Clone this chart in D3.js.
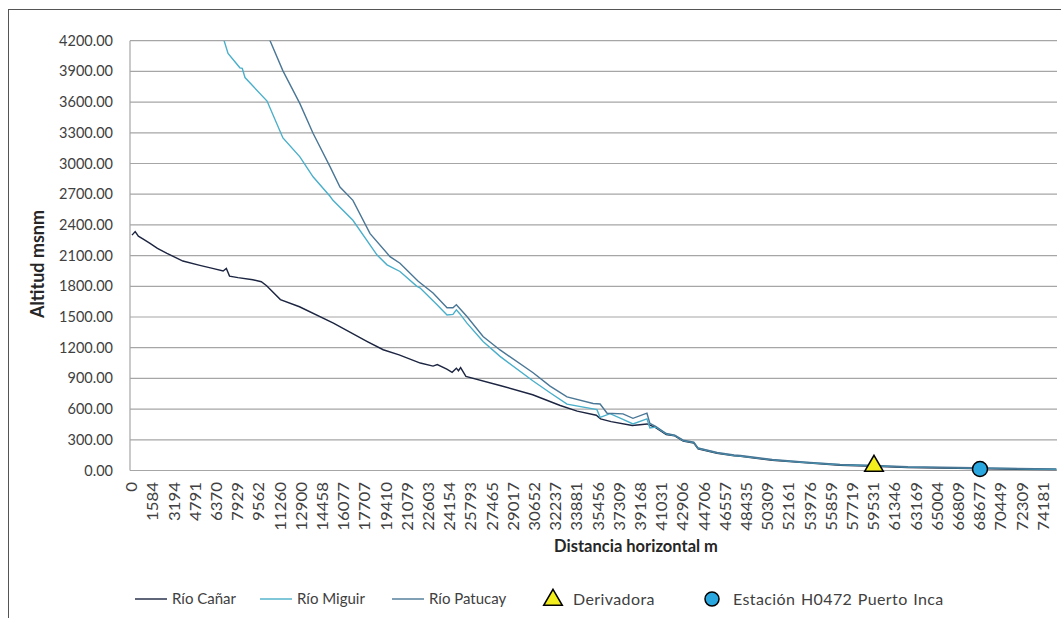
<!DOCTYPE html>
<html>
  <head>
    <meta charset="utf-8">
    <title>Perfil longitudinal</title>
    <style>
      body {
        margin: 0;
        padding: 0;
        overflow: hidden;
        background: #fff;
      }
      svg {
        display: block;
        font-family: Lato, "Open Sans", sans-serif;
      }
    </style>
    <script src="https://unpkg.com/d3@7.1.1/dist/d3.min.js"></script>
  </head>
  <body>
    <svg width="1061" height="618"></svg>
    <script>
      // Etiquetas del eje de categorías (distancia horizontal, m)
      const distLabels = [0, 1584, 3194, 4791, 6370, 7929, 9562, 11260, 12900, 14458,
        16077, 17707, 19410, 21079, 22603, 24154, 25793, 27465, 29017, 30652,
        32237, 33881, 35456, 37309, 39168, 41031, 42906, 44706, 46557, 48435,
        50309, 52161, 53976, 55859, 57719, 59531, 61346, 63169, 65004, 66809,
        68677, 70449, 72309, 74181];

      const yTicks = d3.range(0, 4201, 300);

      // Perfiles: [posición de categoría, altitud msnm]
      const canar = [
        [0, 2300], [0.15, 2335], [0.3, 2290], [0.55, 2258], [0.85, 2220], [1.2, 2170],
        [1.65, 2122], [2.4, 2047], [3.2, 2005], [3.8, 1975], [4.3, 1950], [4.45, 1975],
        [4.6, 1900], [5.0, 1885], [5.7, 1864], [6.1, 1845], [6.35, 1806], [7.0, 1670],
        [7.9, 1600], [9.5, 1440], [11.1, 1260], [11.85, 1180], [12.6, 1130], [13.6, 1050],
        [14.2, 1020], [14.4, 1035], [14.85, 990], [15.1, 960], [15.3, 1000], [15.4, 975],
        [15.5, 1005], [15.75, 920], [17.4, 828], [18.9, 740], [20.2, 635], [21.0, 580],
        [21.9, 540], [22.1, 505], [22.6, 478], [23.6, 440], [24.3, 455], [24.7, 418],
        [25.2, 352], [25.6, 338], [26.0, 288], [26.5, 268], [26.7, 212], [27.6, 168],
        [28.4, 143], [28.7, 138], [30.2, 100], [31.8, 74], [33.4, 52], [35.0, 42],
        [36.6, 29], [39.7, 19], [42.6, 10], [43.6, 8]
      ];

      const miguir = [
        [4.3, 4230], [4.53, 4075], [5.09, 3935], [5.2, 3930], [5.33, 3840], [6.37, 3610],
        [7.12, 3250], [7.92, 3065], [8.54, 2870], [9.34, 2680], [9.48, 2640], [10.42, 2445],
        [11.56, 2105], [12.03, 2010], [12.64, 1945], [13.44, 1800], [13.58, 1785],
        [14.39, 1620], [14.86, 1520], [15.14, 1525], [15.3, 1570], [15.47, 1530],
        [15.8, 1440], [16.56, 1260], [17.36, 1115], [18.92, 875], [19.72, 760],
        [20.52, 648], [21.93, 595], [22.08, 520], [22.55, 555], [23.16, 500], [23.63, 455],
        [24.29, 505], [24.43, 415], [24.7, 425], [25.2, 358], [25.6, 342], [26.0, 292],
        [26.5, 272], [26.7, 217], [27.6, 172], [28.4, 147], [28.7, 142], [30.2, 104],
        [31.8, 78], [33.4, 56], [35.0, 46], [36.6, 33], [39.7, 23], [42.6, 14], [43.6, 12]
      ];

      const patucay = [
        [6.45, 4230], [7.12, 3905], [7.92, 3585], [8.54, 3295], [9.34, 2970], [9.81, 2770],
        [10.42, 2640], [11.23, 2315], [12.17, 2090], [12.64, 2025], [13.5, 1850],
        [14.2, 1735], [14.86, 1590], [15.14, 1590], [15.3, 1620], [15.47, 1580],
        [15.8, 1505], [16.56, 1310], [17.36, 1178], [18.92, 955], [19.72, 825],
        [20.52, 720], [21.75, 655], [22.08, 650], [22.41, 560], [23.16, 553], [23.63, 510],
        [24.29, 560], [24.43, 460], [24.7, 432], [25.2, 362], [25.6, 346], [26.0, 296],
        [26.5, 276], [26.7, 221], [27.6, 176], [28.4, 151], [28.7, 146], [30.2, 108],
        [31.8, 82], [33.4, 60], [35.0, 50], [36.6, 37], [39.7, 27], [42.6, 18], [43.6, 16]
      ];

      const derivadora = [[35, 44]];
      const estacion = [[40, 15]];

      const series = [
        { name: 'Río Cañar', data: canar, color: '#1c2541' },
        { name: 'Río Miguir', data: miguir, color: '#4aafca' },
        { name: 'Río Patucay', data: patucay, color: '#4a7796' }
      ];

      const svg = d3.select('svg');
      const margin = { left: 131, top: 40.7, right: 1057, bottom: 470.5 };

      const x = d3.scaleLinear()
        .domain([0, distLabels.length - 1])
        .range([132, 132 + 21.2 * (distLabels.length - 1)]);
      const y = d3.scaleLinear().domain([0, 4200]).range([margin.bottom, margin.top]);

      // Marco exterior
      svg.append('rect')
        .attr('x', 8.5).attr('y', 9.5)
        .attr('width', 1100).attr('height', 700)
        .attr('fill', 'none').attr('stroke', '#555').attr('stroke-width', 1);

      // Líneas de cuadrícula
      svg.append('g')
        .selectAll('line')
        .data(yTicks)
        .join('line')
        .attr('x1', 130).attr('x2', margin.right)
        .attr('y1', (d) => y(d)).attr('y2', (d) => y(d))
        .attr('stroke', '#a6a6a6').attr('stroke-width', 1.2);

      svg.append('line')
        .attr('x1', 130).attr('x2', 130)
        .attr('y1', margin.top).attr('y2', margin.bottom)
        .attr('stroke', '#a6a6a6').attr('stroke-width', 1.2);

      // Etiquetas eje Y
      svg.append('g')
        .selectAll('text')
        .data(yTicks)
        .join('text')
        .attr('x', 113).attr('y', (d) => y(d))
        .attr('dy', '0.35em')
        .attr('text-anchor', 'end')
        .attr('font-size', 14.5)
        .attr('fill', '#404040')
        .text((d) => d3.format('.2f')(d));

      // Etiquetas eje X (rotadas)
      svg.append('g')
        .selectAll('text')
        .data(distLabels)
        .join('text')
        .attr('transform', (d, i) => `translate(${x(i)},482) rotate(-90) scale(1.12,1)`)
        .attr('dy', '0.35em')
        .attr('text-anchor', 'end')
        .attr('font-size', 15)
        .attr('fill', '#404040')
        .text((d) => d);

      // Títulos de ejes
      svg.append('text')
        .attr('transform', 'translate(44,264) rotate(-90)')
        .attr('text-anchor', 'middle')
        .attr('font-size', 18)
        .attr('font-weight', 'bold')
        .attr('fill', '#262626')
        .text('Altitud msnm');

      svg.append('text')
        .attr('x', 636).attr('y', 552)
        .attr('text-anchor', 'middle')
        .attr('font-size', 16.5)
        .attr('font-weight', 'bold')
        .attr('fill', '#262626')
        .text('Distancia horizontal m');

      // Perfiles
      svg.append('clipPath').attr('id', 'plot')
        .append('rect')
        .attr('x', 130).attr('y', margin.top)
        .attr('width', margin.right - 130).attr('height', margin.bottom - margin.top);

      const line = d3.line()
        .x((d) => x(d[0]))
        .y((d) => y(d[1]));

      svg.append('g')
        .attr('clip-path', 'url(#plot)')
        .selectAll('path')
        .data(series)
        .join('path')
        .attr('d', (d) => line(d.data))
        .attr('fill', 'none')
        .attr('stroke', (d) => d.color)
        .attr('stroke-width', 1.4);

      // Marcadores
      const tri = d3.symbol().type(d3.symbolTriangle).size(150);
      svg.append('g')
        .selectAll('path')
        .data(derivadora)
        .join('path')
        .attr('transform', (d) => `translate(${x(d[0])},${y(d[1])})`)
        .attr('d', tri)
        .attr('fill', '#f2ee1d')
        .attr('stroke', '#000')
        .attr('stroke-width', 1.5);

      svg.append('g')
        .selectAll('circle')
        .data(estacion)
        .join('circle')
        .attr('cx', (d) => x(d[0]))
        .attr('cy', (d) => y(d[1]))
        .attr('r', 7.5)
        .attr('fill', '#2aa7df')
        .attr('stroke', '#000')
        .attr('stroke-width', 1.5);

      // Leyenda
      const legend = svg.append('g').attr('font-size', 15).attr('fill', '#404040');
      const legendX = [135, 260, 392];
      series.forEach((s, i) => {
        legend.append('line')
          .attr('x1', legendX[i]).attr('x2', legendX[i] + 32)
          .attr('y1', 599).attr('y2', 599)
          .attr('stroke', s.color).attr('stroke-width', 1.4);
        legend.append('text')
          .attr('x', legendX[i] + 37).attr('y', 599)
          .attr('dy', '0.35em')
          .text(s.name);
      });

      legend.append('path')
        .attr('transform', 'translate(553,600)')
        .attr('d', tri)
        .attr('fill', '#f2ee1d')
        .attr('stroke', '#000')
        .attr('stroke-width', 1.5);
      legend.append('text')
        .attr('x', 573).attr('y', 599).attr('dy', '0.35em')
        .attr('font-size', 16).attr('letter-spacing', 0.4)
        .text('Derivadora');

      legend.append('circle')
        .attr('cx', 712).attr('cy', 599).attr('r', 7)
        .attr('fill', '#2aa7df')
        .attr('stroke', '#000')
        .attr('stroke-width', 1.5);
      legend.append('text')
        .attr('x', 733).attr('y', 599).attr('dy', '0.35em')
        .attr('font-size', 16).attr('letter-spacing', 0.4)
        .attr('word-spacing', 1)
        .text('Estación H0472 Puerto Inca');
    </script>
  </body>
</html>
